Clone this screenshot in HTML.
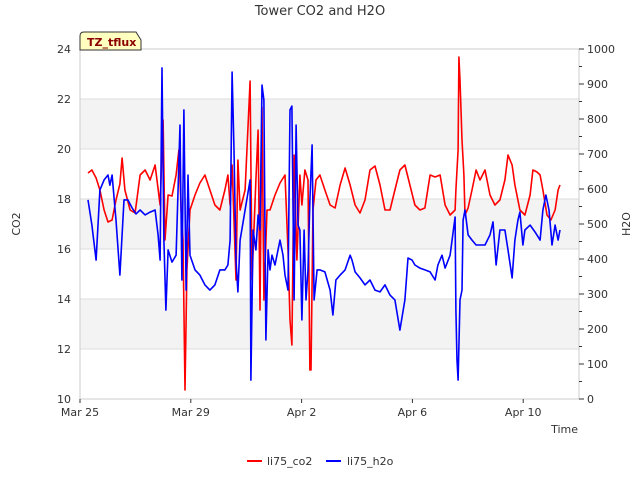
<!DOCTYPE html>
<html><head><meta charset="utf-8"><style>
body{margin:0;background:#fff;font-family:"Liberation Sans","DejaVu Sans",sans-serif}
svg text{font-family:"DejaVu Sans","Liberation Sans",sans-serif}
</style></head><body>
<svg id="chart" width="640" height="480" xmlns="http://www.w3.org/2000/svg">
<rect x="0" y="0" width="640" height="480" fill="#fff"/>
<g id="bands"></g>
<g id="grid"></g>
<rect x="80" y="49" width="499" height="350" fill="none" stroke="#ccc"/>
<g id="series"></g>
<g id="axes"></g>
<text x="320" y="15" text-anchor="middle" font-size="13" fill="#333">Tower CO2 and H2O</text>
<text x="20" y="224" text-anchor="middle" font-size="11" fill="#333" transform="rotate(-90 20 224)">CO2</text>
<text x="630" y="224" text-anchor="middle" font-size="11" fill="#333" transform="rotate(-90 630 224)">H2O</text>
<text x="578" y="433" text-anchor="end" font-size="11" fill="#333">Time</text>
<g>
<path d="M80,50 L80,36 Q80,32 84,32 L136,32 L141,40 L141,50 Z" fill="#ffffc0" stroke="#333"/>
<text x="87" y="46" font-size="11" font-weight="bold" fill="#8b0000">TZ_tflux</text>
</g>
<g>
<g><line x1="247" y1="461" x2="262" y2="461" stroke="#f00" stroke-width="2"/><text x="267" y="465" font-size="11" fill="#333">li75_co2</text></g>
<g><line x1="326" y1="461" x2="341" y2="461" stroke="#00f" stroke-width="2"/><text x="347" y="465" font-size="11" fill="#333">li75_h2o</text></g>
</g>
</svg>
<script>
const xTickLabels=["Mar 25","Mar 29","Apr 2","Apr 6","Apr 10"];
const xTickDays=[0,4,8,12,16];
const co2Ticks=[10,12,14,16,18,20,22,24];
const h2oTicks=[0,100,200,300,400,500,600,700,800,900,1000];
const co2Days=[0.29,0.43,0.58,0.72,0.87,1.01,1.16,1.30,1.44,1.52,1.62,1.81,1.99,2.17,2.35,2.53,2.71,2.89,3.00,3.07,3.18,3.32,3.47,3.57,3.65,3.72,3.79,3.86,3.97,4.15,4.33,4.51,4.69,4.87,5.05,5.23,5.34,5.42,5.49,5.56,5.63,5.70,5.78,5.96,6.14,6.21,6.35,6.43,6.50,6.57,6.64,6.75,6.86,7.04,7.22,7.40,7.51,7.58,7.65,7.73,7.83,7.94,8.01,8.12,8.23,8.30,8.34,8.41,8.52,8.66,8.84,9.03,9.21,9.39,9.57,9.75,9.93,10.11,10.29,10.47,10.65,10.83,11.01,11.19,11.37,11.55,11.73,11.91,12.09,12.27,12.45,12.64,12.82,13.00,13.18,13.36,13.54,13.57,13.65,13.68,13.72,13.79,13.86,13.90,14.01,14.15,14.30,14.44,14.62,14.80,14.98,15.16,15.34,15.45,15.60,15.70,15.88,16.06,16.25,16.35,16.50,16.61,16.71,16.86,17.00,17.15,17.26,17.33];
const co2Vals=[19.04,19.16,18.84,18.36,17.56,17.08,17.16,17.96,18.6,19.64,18.36,17.56,17.44,18.96,19.16,18.76,19.36,17.76,21.16,16.36,18.16,18.12,18.96,19.96,17.56,16.36,10.36,15.16,17.56,18.16,18.64,18.96,18.36,17.76,17.56,18.36,18.96,17.76,19.36,17.16,14.76,19.56,17.56,18.36,22.72,14.76,18.76,20.76,13.56,21.68,13.96,17.56,17.56,18.16,18.64,18.96,15.96,13.16,12.16,19.76,15.56,18.96,17.76,19.16,18.76,11.16,11.16,17.56,18.76,18.96,18.36,17.76,17.64,18.56,19.24,18.56,17.76,17.44,17.96,19.16,19.32,18.56,17.56,17.56,18.36,19.16,19.36,18.56,17.76,17.56,17.64,18.96,18.88,18.96,17.76,17.36,17.56,18.36,19.96,23.68,22.76,20.36,18.96,17.36,17.64,18.36,19.16,18.76,19.16,18.16,17.76,17.96,18.76,19.76,19.36,18.56,17.56,17.36,18.16,19.16,19.08,18.96,18.36,17.36,17.16,17.56,18.36,18.56];
const h2oDays=[0.29,0.43,0.58,0.72,0.87,1.01,1.08,1.16,1.30,1.44,1.59,1.73,1.88,2.02,2.17,2.35,2.53,2.71,2.82,2.89,2.96,3.03,3.10,3.18,3.32,3.47,3.61,3.68,3.75,3.83,3.90,3.97,4.15,4.33,4.51,4.69,4.87,5.05,5.23,5.34,5.42,5.49,5.56,5.63,5.70,5.78,5.96,6.14,6.17,6.25,6.35,6.43,6.50,6.57,6.64,6.71,6.79,6.86,6.93,7.04,7.22,7.33,7.40,7.51,7.58,7.65,7.73,7.80,7.87,7.94,8.01,8.09,8.16,8.23,8.30,8.38,8.45,8.56,8.66,8.84,9.03,9.13,9.24,9.39,9.57,9.75,9.82,9.93,10.11,10.29,10.47,10.65,10.83,11.01,11.19,11.37,11.55,11.73,11.84,11.99,12.09,12.27,12.45,12.64,12.82,12.92,13.07,13.18,13.36,13.54,13.57,13.61,13.65,13.72,13.79,13.83,13.90,14.01,14.15,14.30,14.44,14.62,14.80,14.91,15.02,15.16,15.34,15.45,15.60,15.70,15.81,15.88,15.99,16.06,16.25,16.43,16.61,16.71,16.82,16.93,17.04,17.15,17.26,17.33];
const h2oVals=[569,497,397,597,626,640,611,640,511,354,569,569,546,529,540,526,534,540,469,397,946,454,254,426,391,411,783,340,826,311,640,411,369,354,326,311,326,369,369,383,454,934,711,397,306,454,540,626,54,483,426,526,483,897,854,169,426,369,411,383,454,411,354,311,826,837,283,783,497,483,226,483,283,369,569,726,283,369,369,363,311,240,340,354,369,411,397,363,346,326,340,311,306,326,297,283,197,283,403,397,383,374,369,363,340,383,411,374,411,520,254,111,54,283,311,511,540,469,454,440,440,440,469,506,383,483,483,426,346,454,511,534,440,483,497,477,454,540,583,540,440,497,454,483];

const X0=80,PX_DAY=27.7,T=49,B=399;
const xs=d=>X0+d*PX_DAY;
const yCo2=v=>B-(v-10)*25;
const yH2o=v=>B-v*0.35;
const NS="http://www.w3.org/2000/svg";
function mk(tag,attrs,parent){const e=document.createElementNS(NS,tag);for(const k in attrs)e.setAttribute(k,attrs[k]);parent.appendChild(e);return e;}
const bands=document.getElementById('bands'),grid=document.getElementById('grid'),axes=document.getElementById('axes'),series=document.getElementById('series');
[[12,14],[16,18],[20,22]].forEach(b=>{const r=mk('rect',{x:80,y:yCo2(b[1]),width:499,height:yCo2(b[0])-yCo2(b[1]),fill:'#f3f3f3'},bands);

});
co2Ticks.forEach(v=>{const y=yCo2(v);
const l=mk('line',{x1:80,x2:579,y1:y,y2:y,stroke:'#ddd'},grid);


const t=mk('text',{x:71,y:y+4,'text-anchor':'end','font-size':11,fill:'#333'},axes);t.textContent=v;

});
h2oTicks.forEach(v=>{const y=yH2o(v);
mk('line',{x1:579,x2:584,y1:y,y2:y,stroke:'#333'},axes);
if(v<1000) mk('line',{x1:579,x2:582,y1:y-17.5,y2:y-17.5,stroke:'#333'},axes);
const t=mk('text',{x:587,y:y+4,'font-size':11,fill:'#333'},axes);t.textContent=v;

});
xTickDays.forEach((d,i)=>{const x=xs(d);
mk('line',{x1:x,x2:x,y1:399,y2:403,stroke:'#333'},axes);
const t=mk('text',{x:x,y:416,'text-anchor':'middle','font-size':11,fill:'#333'},axes);t.textContent=xTickLabels[i];

});
function line(days,vals,yf,color,name){const p=mk('polyline',{points:days.map((d,i)=>xs(d).toFixed(1)+','+yf(vals[i]).toFixed(1)).join(' '),fill:'none',stroke:color,'stroke-width':1.6,'stroke-linejoin':'round'},series);

}
line(co2Days,co2Vals,yCo2,'#f00','li75-co2-line');
line(h2oDays,h2oVals,yH2o,'#00f','li75-h2o-line');
</script>
</body></html>
